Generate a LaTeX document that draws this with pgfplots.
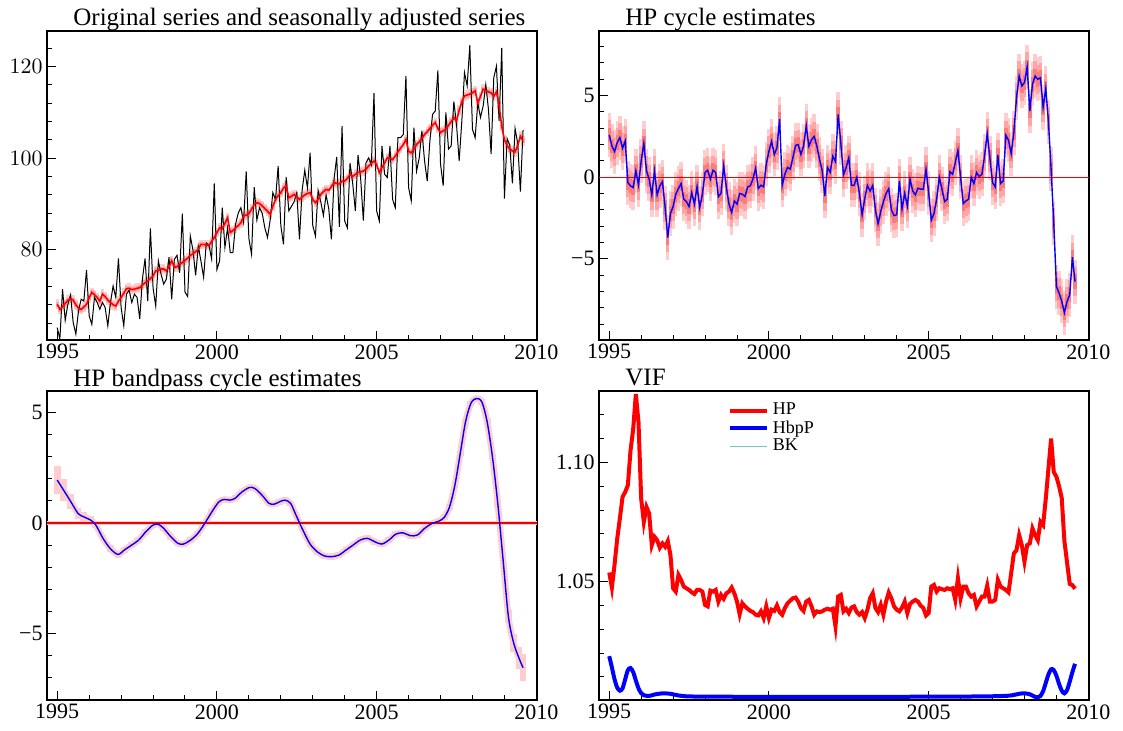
\documentclass[border=0pt]{standalone}
\usepackage{fontspec}
\setmainfont{Liberation Serif}
\usepackage{pgfplots}
\pgfplotsset{compat=1.18}
\usepackage{pgfplotstable}

\definecolor{bandA}{RGB}{255,205,205}
\definecolor{bandB}{RGB}{255,165,165}
\definecolor{bandC}{RGB}{250,125,125}
\definecolor{bkcol}{RGB}{120,195,195}
\definecolor{zred}{RGB}{240,0,0}

\pgfplotstableread{
k orig sa hpc vif
0 63.0 68.1 2.59 1.0538
1 60.5 67.0 1.92 1.0475
2 71.4 67.6 1.57 1.0570
3 64.6 68.3 2.12 1.0680
4 68.1 69.0 2.43 1.0765
5 70.1 69.4 1.78 1.0855
6 64.1 69.0 2.22 1.0876
7 61.6 68.0 -0.33 1.0904
8 66.7 67.2 -0.53 1.1050
9 69.2 67.0 -0.63 1.1140
10 68.8 67.5 0.39 1.1287
11 75.6 68.1 -0.47 1.1169
12 65.6 69.5 1.00 1.0848
13 63.7 70.7 2.08 1.0750
14 69.6 70.2 0.39 1.0813
15 68.5 69.6 -0.12 1.0786
16 67.0 68.8 -1.08 1.0653
17 68.5 70.3 0.39 1.0688
18 67.4 69.8 -1.08 1.0674
19 63.4 69.0 -0.53 1.0642
20 68.5 68.5 -0.27 1.0660
21 72.1 68.0 -1.86 1.0646
22 69.6 67.7 -3.69 1.0670
23 78.1 68.8 -2.22 1.0611
24 67.4 69.6 -1.80 1.0472
25 63.4 70.5 -1.04 1.0458
26 70.3 71.5 -0.69 1.0528
27 71.2 71.6 -0.39 1.0507
28 68.5 71.3 -1.35 1.0479
29 70.3 71.4 -1.49 1.0472
30 69.6 71.6 -1.80 1.0465
31 64.9 71.7 -0.94 1.0455
32 73.6 72.3 -1.65 1.0448
33 78.1 72.8 -0.57 1.0465
34 68.8 73.2 -1.86 1.0465
35 84.7 73.7 -1.04 1.0458
36 71.7 74.3 0.29 1.0402
37 67.7 75.4 0.43 1.0396
38 77.6 75.5 -0.12 1.0462
39 74.7 75.8 0.43 1.0458
40 72.5 75.8 0.29 1.0465
41 73.6 75.4 -1.20 1.0416
42 78.4 76.3 -0.98 1.0444
43 69.2 77.6 0.69 1.0428
44 77.9 76.2 -0.63 1.0451
45 78.8 76.3 -1.65 1.0458
46 75.0 76.8 -2.16 1.0475
47 87.9 77.2 -1.45 1.0451
48 70.8 77.7 -1.65 1.0416
49 69.8 78.2 -1.00 1.0363
50 83.0 78.8 -1.04 1.0409
51 79.9 79.1 -1.18 1.0396
52 74.4 79.6 -0.59 1.0386
53 80.8 80.1 -0.53 1.0377
54 77.5 81.2 -0.10 1.0372
55 74.0 81.2 0.55 1.0361
56 81.5 81.0 -0.69 1.0358
57 81.0 81.0 -0.49 1.0375
58 78.0 81.8 -0.59 1.0347
59 94.5 82.7 0.80 1.0396
60 75.7 83.8 1.60 1.0347
61 77.6 84.8 2.20 1.0382
62 89.2 84.6 1.40 1.0377
63 80.5 85.8 1.80 1.0400
64 84.8 87.0 3.55 1.0372
65 79.4 83.8 -0.50 1.0361
66 79.4 84.2 0.20 1.0389
67 85.6 84.8 0.60 1.0409
68 88.0 85.3 0.50 1.0420
69 89.2 85.9 1.20 1.0430
70 86.0 87.4 1.95 1.0433
71 97.1 87.6 2.00 1.0416
72 82.5 87.9 1.40 1.0389
73 79.0 88.9 1.90 1.0377
74 93.7 89.9 3.15 1.0416
75 86.5 90.3 1.90 1.0423
76 89.2 90.1 2.30 1.0396
77 88.0 89.6 2.50 1.0361
78 84.8 89.0 1.90 1.0375
79 82.7 88.4 1.10 1.0372
80 86.5 87.8 0.40 1.0375
81 92.5 89.5 -1.15 1.0382
82 91.0 91.0 0.60 1.0386
83 98.3 91.8 0.30 1.0382
84 85.3 92.5 1.30 1.0386
85 81.2 93.5 0.95 1.0312
86 95.9 94.0 3.85 1.0437
87 88.5 91.4 2.10 1.0444
88 89.5 91.7 0.15 1.0375
89 90.5 92.1 0.60 1.0386
90 92.5 91.6 1.20 1.0368
91 82.3 91.0 -0.50 1.0391
92 93.0 91.5 -0.50 1.0396
93 97.4 92.0 0.00 1.0372
94 93.5 92.3 -1.00 1.0361
95 101.2 92.5 -2.30 1.0372
96 85.3 91.0 -1.30 1.0347
97 83.0 90.3 -0.50 1.0382
98 93.0 91.0 -0.85 1.0430
99 90.5 92.1 -0.50 1.0451
100 87.5 92.7 -2.00 1.0389
101 92.0 93.2 -2.85 1.0372
102 89.0 93.0 -2.10 1.0403
103 82.3 93.8 -1.50 1.0361
104 95.5 94.7 -1.00 1.0416
105 100.3 94.5 -0.70 1.0454
106 85.0 94.4 -2.00 1.0430
107 107.0 95.0 -2.35 1.0396
108 86.3 95.0 -2.30 1.0382
109 84.8 95.6 -0.22 1.0375
110 98.9 96.5 -1.96 1.0391
111 94.5 96.0 -0.98 1.0416
112 88.5 96.5 -1.76 1.0368
113 100.7 96.9 -0.12 1.0406
114 95.5 97.0 -0.84 1.0416
115 86.4 97.2 -1.08 1.0423
116 99.0 97.6 -0.67 1.0416
117 100.1 98.3 -0.73 1.0399
118 98.6 98.9 -0.73 1.0389
119 114.2 99.4 0.49 1.0358
120 88.5 98.6 -0.94 1.0368
121 86.3 96.9 -2.63 1.0479
122 102.7 98.0 -2.22 1.0486
123 96.5 99.0 -1.35 1.0458
124 95.8 100.1 0.00 1.0472
125 102.7 100.0 -0.73 1.0468
126 91.0 99.7 -1.49 1.0465
127 89.2 100.5 -1.35 1.0472
128 104.5 101.4 0.35 1.0468
129 104.5 102.2 0.18 1.0472
130 105.2 103.0 0.90 1.0423
131 118.0 104.1 1.65 1.0514
132 93.6 101.5 0.00 1.0430
133 90.7 101.2 -1.61 1.0479
134 106.7 102.0 -1.45 1.0479
135 97.2 103.0 -1.35 1.0451
136 100.1 103.6 0.00 1.0437
137 106.0 104.3 -0.39 1.0444
138 99.4 105.2 0.29 1.0396
139 95.0 105.8 0.04 1.0416
140 103.8 106.5 0.18 1.0437
141 109.6 107.2 1.31 1.0437
142 110.3 107.8 2.67 1.0483
143 119.2 106.5 1.20 1.0416
144 98.7 105.6 -0.33 1.0416
145 94.0 106.0 -0.59 1.0423
146 110.0 106.4 1.37 1.0507
147 102.0 107.2 -0.39 1.0479
148 102.7 108.0 -0.22 1.0472
149 112.4 108.9 2.57 1.0465
150 107.4 108.1 2.27 1.0455
151 99.4 110.5 1.45 1.0535
152 108.1 112.3 2.73 1.0618
153 118.7 113.6 4.88 1.0632
154 115.8 113.8 6.20 1.0695
155 124.7 114.0 5.59 1.0653
156 106.3 114.3 5.80 1.0584
157 104.5 114.7 6.76 1.0653
158 112.1 112.1 4.06 1.0660
159 108.9 113.5 5.69 1.0723
160 111.4 115.1 6.20 1.0695
161 116.1 114.8 6.00 1.0674
162 110.7 114.5 6.10 1.0751
163 100.9 114.3 4.27 1.0737
164 117.6 113.5 5.45 1.0848
165 120.1 114.5 3.40 1.0974
166 108.1 111.5 0.50 1.1100
167 124.1 107.0 -2.80 1.0960
168 91.2 104.0 -6.70 1.0940
169 104.3 102.8 -7.10 1.0900
170 102.9 102.0 -7.60 1.0850
171 94.5 101.6 -8.30 1.0670
172 106.5 101.4 -7.60 1.0580
173 103.2 102.8 -7.20 1.0490
174 92.7 104.8 -4.90 1.0485
175 106.2 103.8 -6.40 1.0470
}\maindata

\pgfplotstableread{
k v e
0 1.95 0.65
2.4 1.49 0.5
5.1 0.97 0.35
7.8 0.44 0.25
9.8 0.29 0.2
12.5 0.14 0.17
14.5 -0.09 0.15
17.2 -0.69 0.14
19.9 -1.15 0.14
22.8 -1.42 0.14
25.2 -1.22 0.13
27.9 -1.0 0.13
30.6 -0.77 0.13
33.3 -0.39 0.13
36 -0.09 0.13
38 -0.05 0.13
40 -0.24 0.13
42.7 -0.62 0.13
45.4 -0.92 0.13
47.4 -0.95 0.13
50.1 -0.77 0.13
52.8 -0.47 0.13
55.4 -0.02 0.13
58.1 0.51 0.13
60.8 0.97 0.13
62.8 1.07 0.13
64.8 1.04 0.13
66.8 1.12 0.13
69.5 1.42 0.13
72.2 1.61 0.13
74.2 1.57 0.13
76.9 1.27 0.13
79.6 0.89 0.13
81.6 0.86 0.13
83.6 0.97 0.13
85.6 1.04 0.13
87.7 0.89 0.13
89.7 0.36 0.13
92.3 -0.32 0.13
95 -0.95 0.13
97.7 -1.3 0.13
100.4 -1.49 0.13
103.1 -1.52 0.13
105.8 -1.45 0.13
108.5 -1.22 0.13
111.1 -1.0 0.13
113.8 -0.77 0.13
116.5 -0.69 0.13
119.2 -0.84 0.13
121.9 -0.95 0.13
124.6 -0.77 0.13
127.2 -0.5 0.13
129.9 -0.44 0.13
132.6 -0.57 0.13
135.3 -0.54 0.13
138 -0.24 0.13
140.7 -0.02 0.13
143.4 0.09 0.13
145.4 0.26 0.13
147.4 0.74 0.13
149.4 1.72 0.13
151.4 3.15 0.13
153.4 4.59 0.13
155.4 5.42 0.13
157.4 5.64 0.13
159.5 5.49 0.13
161.5 4.59 0.13
163.5 3.0 0.14
165.5 0.89 0.16
167.5 -1.67 0.2
169.5 -4.24 0.3
171.5 -5.44 0.4
173.5 -6.12 0.5
175 -6.55 0.6
}\bpdata

\pgfplotstableread{
k v
0 1.0187
1 1.0140
2 1.0090
3 1.0055
4 1.0042
5 1.0052
6 1.0090
7 1.0128
8 1.0137
9 1.0120
10 1.0085
11 1.0052
12 1.0032
13 1.0023
15 1.0020
17 1.0026
20 1.0031
23 1.0029
26 1.0022
30 1.0018
40 1.0017
60 1.0016
80 1.0016
100 1.0016
120 1.0017
140 1.0018
150 1.0021
154 1.0029
156 1.0031
158 1.0027
160 1.0016
161 1.0014
162 1.0020
163 1.0040
164 1.0075
165 1.0110
166 1.0132
167 1.0128
168 1.0105
169 1.0070
170 1.0042
171 1.0031
172 1.0045
173 1.0080
174 1.0120
175 1.0155
}\hbpdata

\pgfplotsset{
  panel/.style={
    scale only axis, width=245pt, height=154.5pt,
    xmin=-3.84, xmax=180.24,
    xtick={0,60,120,180}, xticklabels={1995,2000,2005,2010},
    minor xtick={12,24,36,48,72,84,96,108,132,144,156,168},
    tick align=inside, xtick pos=bottom, ytick pos=left,
    major tick length=4.5pt, minor tick length=2.5pt,
    tick style={black, line width=0.5pt},
    axis line style={line width=0.6pt},
    tick label style={font=\fontsize{11}{11}\selectfont},
    xticklabel style={inner sep=2pt},
    yticklabel style={inner sep=2pt},
    every axis title/.style={at={(0,1)}, anchor=base west, xshift=13pt, yshift=2.5pt, inner sep=0pt, font=\fontsize{12.5}{12.5}\selectfont},
  },
  ovl/.style={
    scale only axis, width=245pt, height=154.5pt,
    xmin=-3.84, xmax=180.24, hide axis,
  },
}

\begin{document}
\begin{tikzpicture}
\path[use as bounding box] (0,0) rectangle (561.5pt,365.5pt);

% Panel 1: band
\begin{axis}[panel, at={(23.5pt,195.5pt)}, anchor=south west,
  ymin=60.3, ymax=127.8, ytick={80,100,120},
  minor ytick={64,68,72,76,84,88,92,96,104,108,112,116,124},
  title={Original series and seasonally adjusted series}]
\addplot[draw=none, mark=none, forget plot, error bars/.cd, y dir=both, y fixed=1.05, error mark=none, error bar style={line width=1.7pt, draw=bandA}] table[x=k, y=sa] {\maindata};
\addplot[draw=none, mark=none, forget plot, error bars/.cd, y dir=both, y fixed=0.55, error mark=none, error bar style={line width=1.7pt, draw=bandB}] table[x=k, y=sa] {\maindata};
\end{axis}
% Panel 1: lines
\begin{axis}[ovl, at={(23.5pt,195.5pt)}, anchor=south west, ymin=60.3, ymax=127.8]
\addplot[draw=black, line width=0.5pt, mark=none] table[x=k, y=orig] {\maindata};
\addplot[draw=red, line width=0.8pt, mark=none] table[x=k, y=sa] {\maindata};
\end{axis}

% Panel 2: band
\begin{axis}[panel, at={(299.5pt,195.5pt)}, anchor=south west,
  ymin=-9.97, ymax=8.96, ytick={-5,0,5}, yticklabels={−5,0,5},
  minor ytick={-9,-8,-7,-6,-4,-3,-2,-1,1,2,3,4,6,7,8},
  title={HP cycle estimates}]
\addplot[draw=none, mark=none, forget plot, error bars/.cd, y dir=both, y fixed=1.35, error mark=none, error bar style={line width=1.7pt, draw=bandA}] table[x=k, y=hpc] {\maindata};
\addplot[draw=none, mark=none, forget plot, error bars/.cd, y dir=both, y fixed=0.9, error mark=none, error bar style={line width=1.7pt, draw=bandB}] table[x=k, y=hpc] {\maindata};
\addplot[draw=none, mark=none, forget plot, error bars/.cd, y dir=both, y fixed=0.45, error mark=none, error bar style={line width=1.7pt, draw=bandC}] table[x=k, y=hpc] {\maindata};
\end{axis}
% Panel 2: lines
\begin{axis}[ovl, at={(299.5pt,195.5pt)}, anchor=south west, ymin=-9.97, ymax=8.96]
\addplot[draw=zred, line width=0.7pt, mark=none] coordinates {(-3.84,0) (180.24,0)};
\addplot[draw=blue, line width=0.7pt, mark=none] table[x=k, y=hpc] {\maindata};
\end{axis}

% Panel 3: band
\begin{axis}[panel, at={(23.5pt,15.5pt)}, anchor=south west,
  ymin=-8.01, ymax=5.98, ytick={-5,0,5}, yticklabels={−5,0,5},
  minor ytick={-7,-6,-4,-3,-2,-1,1,2,3,4},
  title={HP bandpass cycle estimates}]
\addplot[draw=none, mark=none, forget plot, error bars/.cd, y dir=both, y explicit, error mark=none, error bar style={line width=3.4pt, draw=bandA}] table[x=k, y=v, y error=e] {\bpdata};
\end{axis}
% Panel 3: lines
\begin{axis}[ovl, at={(23.5pt,15.5pt)}, anchor=south west, ymin=-8.01, ymax=5.98]
\addplot[draw=bandA, line width=3.2pt, smooth, mark=none] table[x=k, y=v] {\bpdata};
\addplot[draw=bandA, line width=2pt, mark=none] coordinates {(-3.84,0) (180.24,0)};
\addplot[draw=zred, line width=0.6pt, mark=none] coordinates {(-3.84,0) (180.24,0)};
\addplot[draw=blue, line width=0.7pt, smooth, mark=none] table[x=k, y=v] {\bpdata};
\end{axis}

% Panel 4
\begin{axis}[panel, at={(299.5pt,15.5pt)}, anchor=south west,
  ymin=1.0003, ymax=1.130, ytick={1.05,1.10}, yticklabels={1.05,1.10},
  minor ytick={1.01,1.02,1.03,1.04,1.06,1.07,1.08,1.09,1.11,1.12},
  title={VIF},
  legend cell align=left,
  legend style={draw=none, fill=none, at={(0.262,0.975)}, anchor=north west,
    font=\fontsize{9}{9}\selectfont, row sep=-2.6pt, inner sep=0pt},
  legend image code/.code={\draw[#1] (0pt,0pt) -- (18.5pt,0pt);}]
\addplot[red, line width=2pt, mark=none] table[x=k, y=vif] {\maindata};
\addlegendentry{HP}
\addplot[blue, line width=2pt, smooth, mark=none] table[x=k, y=v] {\hbpdata};
\addlegendentry{HbpP}
\addlegendimage{bkcol, line width=0.7pt}
\addlegendentry{BK}
\end{axis}
\end{tikzpicture}
\end{document}
